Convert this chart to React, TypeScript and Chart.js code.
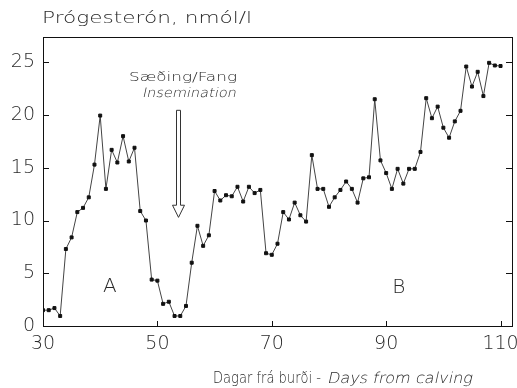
import { useEffect, useRef } from 'react';
import { Chart, registerables } from 'chart.js';

Chart.register(...registerables);

// ---- data ----
const days = [
  30, 31, 32, 33, 34, 35, 36, 37, 38, 39,
  40, 41, 42, 43, 44, 45, 46, 47, 48, 49,
  50, 51, 52, 53, 54, 55, 56, 57, 58, 59,
  60, 61, 62, 63, 64, 65, 66, 67, 68, 69,
  70, 71, 72, 73, 74, 75, 76, 77, 78, 79,
  80, 81, 82, 83, 84, 85, 86, 87, 88, 89,
  90, 91, 92, 93, 94, 95, 96, 97, 98, 99,
  100, 101, 102, 103, 104, 105, 106, 107, 108, 109,
  110,
];
const progesterone = [
  1.5, 1.5, 1.7, 0.95, 7.3, 8.4, 10.8, 11.2, 12.2, 15.3,
  19.95, 13.0, 16.7, 15.5, 18.0, 15.6, 16.9, 10.9, 10.0, 4.4,
  4.3, 2.1, 2.3, 0.95, 0.95, 1.9, 6.0, 9.5, 7.6, 8.6,
  12.8, 11.9, 12.4, 12.3, 13.2, 11.8, 13.2, 12.6, 12.9, 6.9,
  6.75, 7.8, 10.8, 10.1, 11.7, 10.5, 9.9, 16.2, 13.0, 13.0,
  11.3, 12.2, 12.9, 13.7, 13.0, 11.7, 14.0, 14.1, 21.5, 15.7,
  14.5, 13.0, 14.9, 13.5, 14.9, 14.9, 16.5, 21.6, 19.7, 20.8,
  18.8, 17.85, 19.4, 20.4, 24.6, 22.7, 24.1, 21.8, 24.95, 24.7,
  24.65,
];
const xTickValues = [30, 50, 70, 90, 110];
const yTickValues = [0, 5, 10, 15, 20, 25];
const xMin = 30;
const xMax = 112;
const yMin = 0;
const yMax = 27.4;

const yTitle = 'Prógesterón, nmól/l';
const xTitleLocal = 'Dagar frá burði -';
const xTitleEnglish = 'Days from calving';
const noteLocal = 'Sæðing/Fang';
const noteEnglish = 'Insemination';
const inseminationDay = 53.6;
const phaseNames = ['A', 'B'];
const phaseDays = [41.7, 92.2];
const phaseValues = [3.7, 3.6];

const FONT = '"DejaVu Sans", "Liberation Sans", sans-serif';
const INK = '#2a2a2a';

// draw text stretched horizontally to span a given width, optionally slanted
function fitText(ctx: CanvasRenderingContext2D, text: string, font: string,
  left: number, baseline: number, width: number, slant = 0) {
  ctx.save();
  ctx.font = font;
  const w = ctx.measureText(text).width;
  ctx.translate(left, baseline);
  ctx.transform(1, 0, -slant, 1, 0, 0);
  ctx.scale(width / w, 1);
  ctx.textAlign = 'left';
  ctx.textBaseline = 'alphabetic';
  ctx.fillText(text, 0, 0);
  ctx.restore();
}

const decorPlugin = {
  id: 'decor',
  afterDraw(chart: any) {
    const { ctx, chartArea: a, scales } = chart;
    const xs = scales.x;
    const ys = scales.y;
    ctx.save();
    // frame
    ctx.strokeStyle = '#111';
    ctx.lineWidth = 1;
    ctx.strokeRect(Math.round(a.left) + 0.5, Math.round(a.top) + 0.5,
      Math.round(a.right - a.left), Math.round(a.bottom - a.top));
    // inward ticks
    ctx.beginPath();
    for (const v of yTickValues) {
      const y = Math.round(ys.getPixelForValue(v)) + 0.5;
      ctx.moveTo(a.left, y); ctx.lineTo(a.left + 6, y);
      ctx.moveTo(a.right, y); ctx.lineTo(a.right - 6, y);
    }
    for (const v of xTickValues) {
      const x = Math.round(xs.getPixelForValue(v)) + 0.5;
      ctx.moveTo(x, a.bottom); ctx.lineTo(x, a.bottom - 5);
    }
    ctx.stroke();

    ctx.fillStyle = INK;
    // y title
    fitText(ctx, yTitle, `200 16px ${FONT}`, 42, 23, 210);

    // x title (upright + slanted parts)
    fitText(ctx, xTitleLocal, `200 15px ${FONT}`, 213, 383, 108);
    fitText(ctx, xTitleEnglish, `200 15px ${FONT}`, 327, 383, 145, 0.22);

    // insemination note
    fitText(ctx, noteLocal, `200 13px ${FONT}`, 129, 81, 108);
    fitText(ctx, noteEnglish, `200 13px ${FONT}`, 142, 97, 94, 0.22);

    // arrow
    const ax = Math.round(xs.getPixelForValue(inseminationDay)) + 0.5;
    const top = ys.getPixelForValue(20.45);
    const headTop = ys.getPixelForValue(11.45);
    const tip = ys.getPixelForValue(10.3);
    ctx.strokeStyle = '#333';
    ctx.lineWidth = 1;
    ctx.beginPath();
    ctx.moveTo(ax - 2, headTop); ctx.lineTo(ax - 2, top); ctx.lineTo(ax + 2, top); ctx.lineTo(ax + 2, headTop);
    ctx.lineTo(ax + 6, headTop); ctx.lineTo(ax, tip); ctx.lineTo(ax - 6, headTop); ctx.closePath();
    ctx.fillStyle = '#fff';
    ctx.fill();
    ctx.stroke();

    // phase labels
    ctx.fillStyle = INK;
    ctx.font = `200 20px ${FONT}`;
    ctx.textAlign = 'center';
    ctx.textBaseline = 'middle';
    phaseNames.forEach((n, i) => {
      ctx.fillText(n, xs.getPixelForValue(phaseDays[i]), ys.getPixelForValue(phaseValues[i]));
    });
    ctx.restore();
  },
};

export default function App() {
  const ref = useRef<HTMLCanvasElement | null>(null);
  useEffect(() => {
    if (!ref.current) return;
    const chart = new Chart(ref.current, {
      type: 'line',
      data: {
        datasets: [{
          data: days.map((d, i) => ({ x: d, y: progesterone[i] })),
          borderColor: '#444',
          borderWidth: 1,
          pointStyle: 'rect',
          pointRadius: 2.1,
          pointBackgroundColor: '#111',
          pointBorderColor: '#111',
          pointBorderWidth: 1,
          tension: 0,
        }],
      },
      options: {
        responsive: false,
        animation: false,
        devicePixelRatio: 1,
        layout: { padding: { top: 37, right: 5, left: 0, bottom: 0 } },
        plugins: { legend: { display: false }, tooltip: { enabled: false } },
        events: [],
        scales: {
          x: {
            type: 'linear',
            min: xMin,
            max: xMax,
            grid: { display: false, drawTicks: false },
            border: { display: false },
            afterBuildTicks: (s: any) => { s.ticks = xTickValues.map((v) => ({ value: v })); },
            afterFit: (s: any) => { s.height = 62; s.paddingLeft = 0; s.paddingRight = 0; },
            ticks: {
              padding: 7,
              maxRotation: 0,
              autoSkip: false,
              color: INK,
              font: { family: FONT, size: 19, weight: '200' as any },
            },
          },
          y: {
            type: 'linear',
            min: yMin,
            max: yMax,
            grid: { display: false, drawTicks: false },
            border: { display: false },
            afterBuildTicks: (s: any) => { s.ticks = yTickValues.map((v) => ({ value: v })); },
            afterFit: (s: any) => { s.width = 43; s.paddingTop = 0; s.paddingBottom = 0; },
            ticks: {
              padding: 8,
              color: INK,
              font: { family: FONT, size: 19, weight: '200' as any },
            },
          },
        },
      },
      plugins: [decorPlugin],
    });
    return () => chart.destroy();
  }, []);
  return (
    <div style={{ position: 'fixed', left: 0, top: 0, width: 517, height: 388, background: '#fff' }}>
      <canvas ref={ref} width={517} height={388} style={{ display: 'block' }} />
    </div>
  );
}
